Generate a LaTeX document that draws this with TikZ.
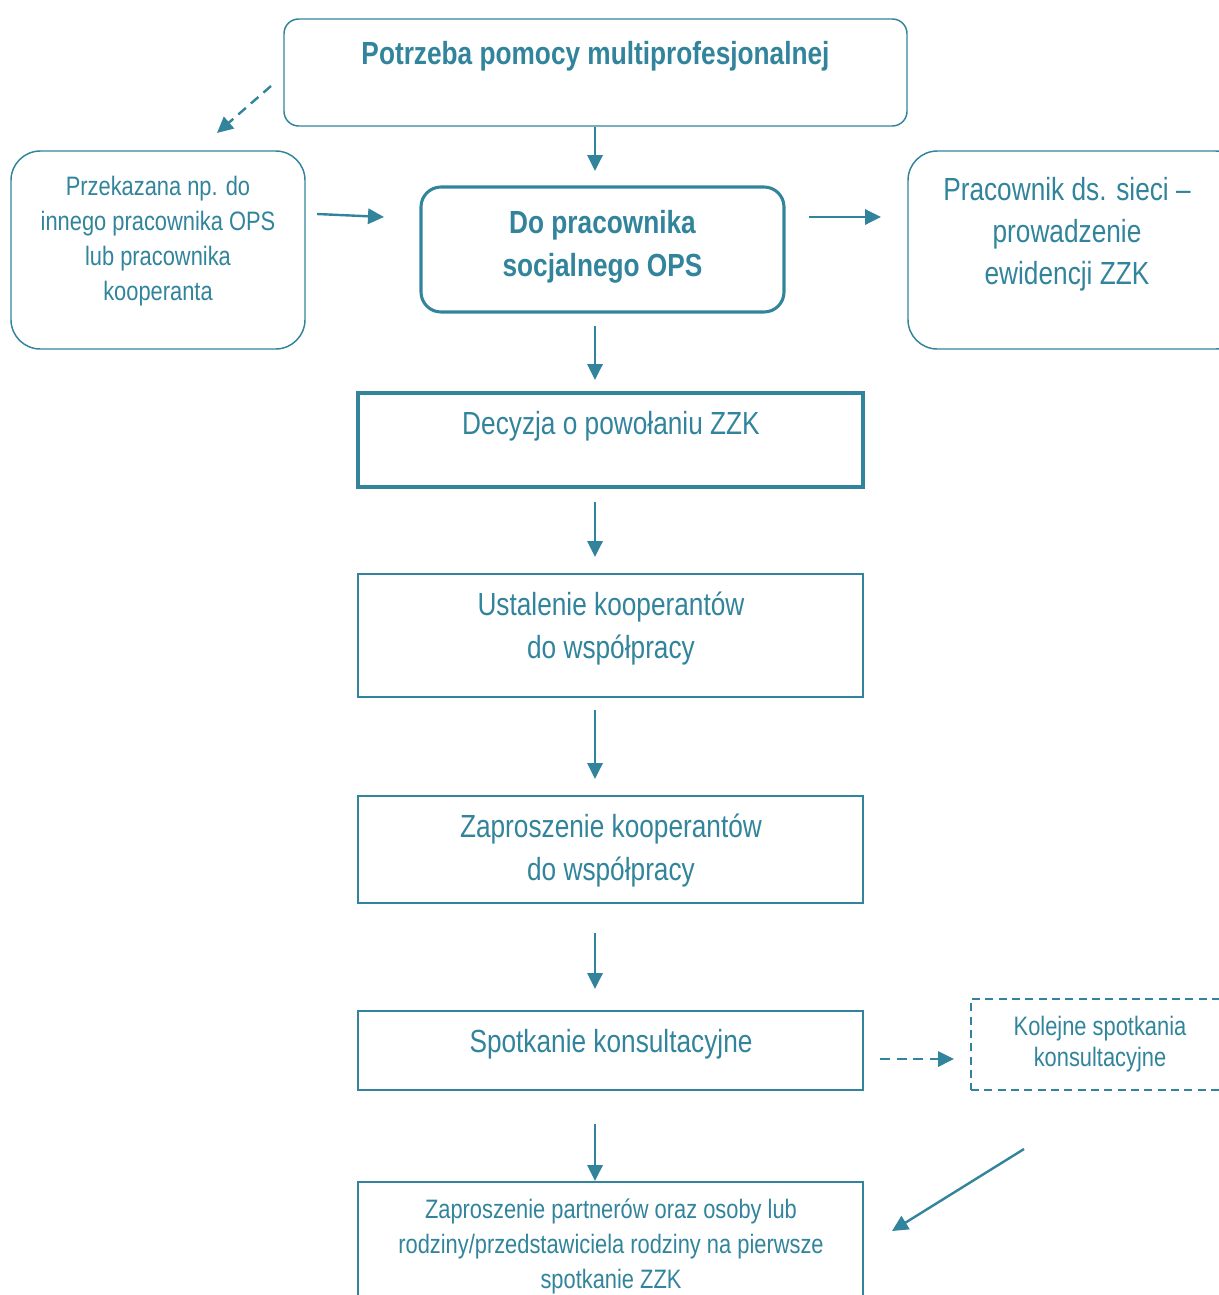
\documentclass[tikz,border=0pt]{standalone}
\usepackage{fontspec}
\setmainfont{Liberation Sans}[FakeStretch=0.82]
\usetikzlibrary{arrows.meta,fit}
\definecolor{teal1}{HTML}{31849B}
\tikzset{
  box/.style={draw=teal1, line width=1.1pt, inner sep=0pt},
  thickbox/.style={box, line width=2.3pt},
  dbox/.style={box, dash pattern=on 6pt off 4pt},
  txt/.style={text=teal1, inner sep=0pt, align=center, anchor=north},
  big/.style={font=\fontsize{24pt}{32pt}\selectfont},
  bigb/.style={font=\bfseries\fontsize{24pt}{32pt}\selectfont},
  small/.style={font=\fontsize{20pt}{26.25pt}\selectfont},
  arr/.style={draw=teal1, line width=1.8pt, -{Triangle[length=12pt,width=11.5pt]}},
  darr/.style={arr, dash pattern=on 7.5pt off 5pt},
}
\begin{document}
\begin{tikzpicture}[x=0.75pt,y=-0.75pt]
\useasboundingbox (0,0) rectangle (1218,1295);
% boxes
\node[box, rounded corners=11pt, fit={(284,19) (907,126)}] (top) {};
\node[box, rounded corners=22pt, fit={(11,151) (305,349)}] (left) {};
\node[thickbox, rounded corners=15pt, fit={(421,187) (784,312)}] (mid) {};
\node[box, rounded corners=22pt, fit={(908,151) (1245,349)}] (right) {};
\node[thickbox, fit={(358,393) (863,487)}] (dec) {};
\node[box, fit={(358,574) (863,697)}] (ust) {};
\node[box, fit={(358,796) (863,903)}] (zap) {};
\node[box, fit={(358,1011) (863,1090)}] (spo) {};
\node[dbox, fit={(971,999) (1250,1090)}] (kol) {};
\node[box, fit={(358,1182) (863,1330)}] (bot) {};
% texts
\node[txt, bigb] (topt) at (595.5,41) {Potrzeba pomocy multiprofesjonalnej};
\node[txt, font=\fontsize{20pt}{26.25pt}\selectfont] (leftt) at (158,176) {Przekazana np. do\\innego pracownika OPS\\lub pracownika\\kooperanta};
\node[txt, bigb] (midt) at (602.5,210) {Do pracownika\\socjalnego OPS};
\node[txt, font=\fontsize{24pt}{31.5pt}\selectfont] (rightt) at (1067,177) {Pracownik ds. sieci –\\prowadzenie\\ewidencji ZZK};
\node[txt, big] (dect) at (611,411.5) {Decyzja o powołaniu ZZK};
\node[txt, big] (ustt) at (611,592) {Ustalenie kooperantów\\do współpracy};
\node[txt, big] (zapt) at (611,814) {Zaproszenie kooperantów\\do współpracy};
\node[txt, big] (spot) at (611,1029) {Spotkanie konsultacyjne};
\node[txt, font=\fontsize{20pt}{23.25pt}\selectfont] (kolt) at (1100,1016) {Kolejne spotkania\\konsultacyjne};
\node[txt, small] (bott) at (611,1199) {Zaproszenie partnerów oraz osoby lub\\rodziny/przedstawiciela rodziny na pierwsze\\spotkanie ZZK};
% arrow end points
\coordinate (a1s) at (595,127);  \coordinate (a1e) at (595,171);
\coordinate (a2s) at (271,86);   \coordinate (a2e) at (217,133);
\coordinate (a3s) at (317,214);  \coordinate (a3e) at (384,217);
\coordinate (a4s) at (809,217);  \coordinate (a4e) at (881,217);
\coordinate (a5s) at (595,326);  \coordinate (a5e) at (595,380);
\coordinate (a6s) at (595,502);  \coordinate (a6e) at (595,557);
\coordinate (a7s) at (595,710);  \coordinate (a7e) at (595,779);
\coordinate (a8s) at (595,933);  \coordinate (a8e) at (595,989);
\coordinate (a9s) at (880,1059); \coordinate (a9e) at (954,1059);
\coordinate (a10s) at (595,1124); \coordinate (a10e) at (595,1181);
\coordinate (a11s) at (1024,1149); \coordinate (a11e) at (892,1231);
\draw[arr] (a1s) -- (a1e);
\draw[darr] (a2s) -- (a2e);
\draw[arr] (a3s) -- (a3e);
\draw[arr] (a4s) -- (a4e);
\draw[arr] (a5s) -- (a5e);
\draw[arr] (a6s) -- (a6e);
\draw[arr] (a7s) -- (a7e);
\draw[arr] (a8s) -- (a8e);
\draw[darr] (a9s) -- (a9e);
\draw[arr] (a10s) -- (a10e);
\draw[arr] (a11s) -- (a11e);
\end{tikzpicture}
\end{document}
